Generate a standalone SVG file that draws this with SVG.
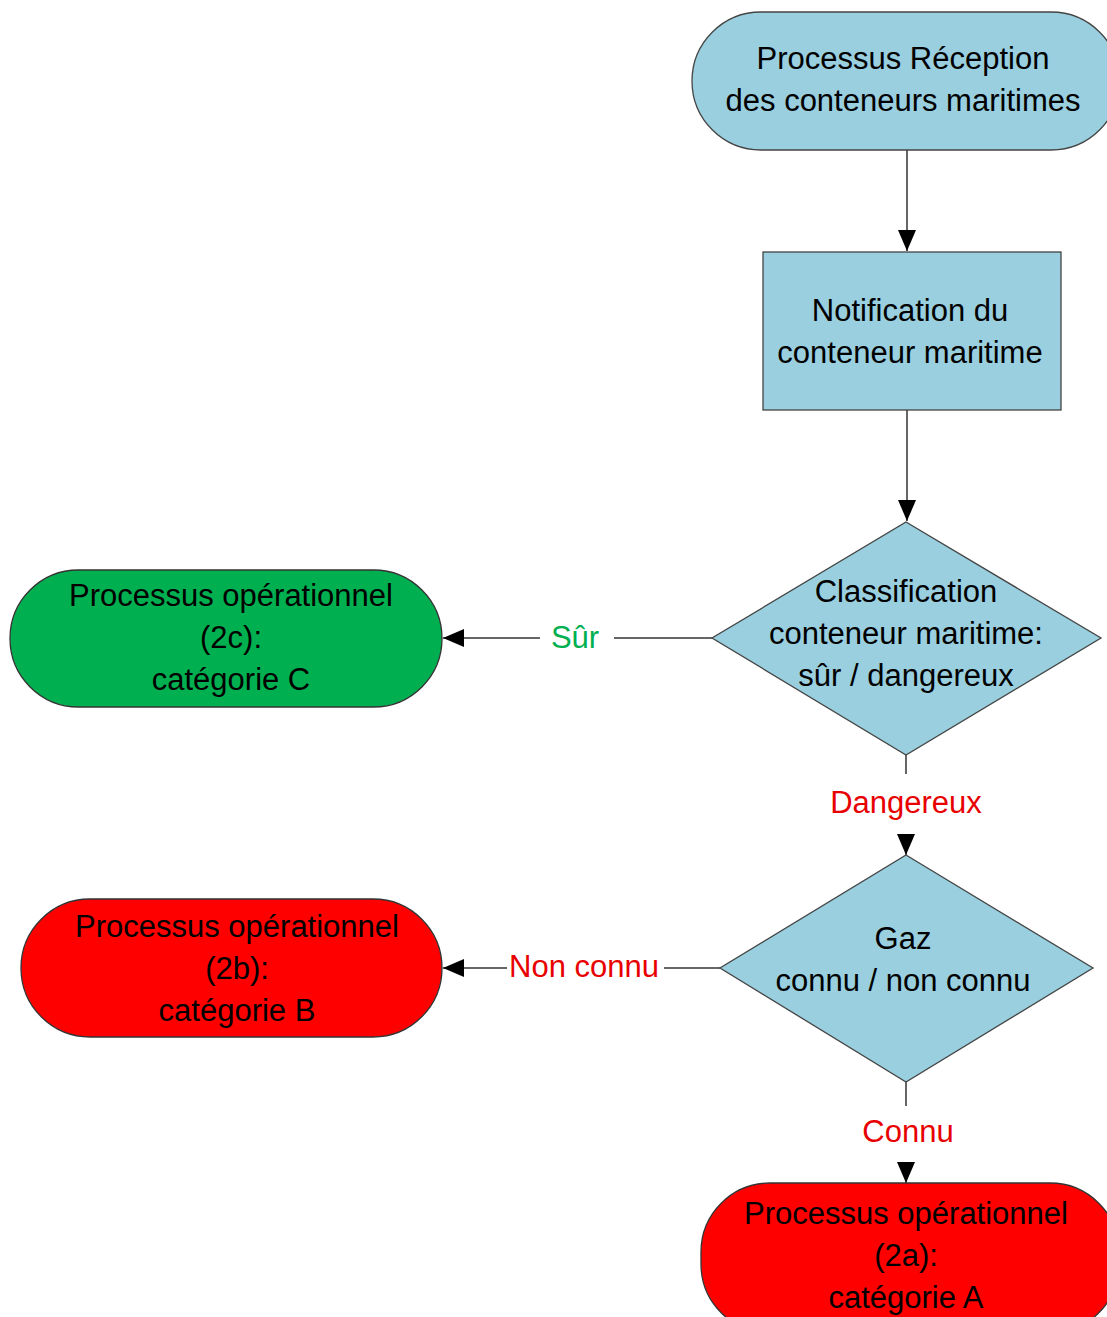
<svg xmlns="http://www.w3.org/2000/svg" width="1107" height="1317" viewBox="0 0 1107 1317">
<defs>
<marker id="ah" viewBox="0 0 21 18" refX="21" refY="9" markerWidth="21" markerHeight="18" markerUnits="userSpaceOnUse" orient="auto">
<path d="M0,0 L21,9 L0,18 Z" fill="#000"/>
</marker>
<style>
.t{font-family:"Liberation Sans",Arial,sans-serif;font-size:31px;fill:#000;text-anchor:middle}
.l{font-family:"Liberation Sans",Arial,sans-serif;font-size:31px;text-anchor:middle}
.blue{fill:#99CFDF;stroke:#444;stroke-width:1.3}
.green{fill:#00B050;stroke:#333;stroke-width:1.3}
.red{fill:#FF0000;stroke:#333;stroke-width:1.3}
.c{stroke:#333;stroke-width:1.5;fill:none}
</style>
</defs>
<rect width="1107" height="1317" fill="#fff"/>
<g id="connectors">
<path class="c" d="M907,150 V251" marker-end="url(#ah)"/>
<path class="c" d="M907,410 V521" marker-end="url(#ah)"/>
<path class="c" d="M712,638 H614"/>
<path class="c" d="M540,638 H443" marker-end="url(#ah)"/>
<path class="c" d="M906,755 V774"/>
<path class="c" d="M906,834 V855" marker-end="url(#ah)"/>
<path class="c" d="M720,968 H664"/>
<path class="c" d="M507,968 H443" marker-end="url(#ah)"/>
<path class="c" d="M906,1082 V1106"/>
<path class="c" d="M906,1162 V1183" marker-end="url(#ah)"/>
<text class="l" x="575" y="648" fill="#00B050">Sûr</text>
<text class="l" x="906" y="813" fill="#E80000">Dangereux</text>
<text class="l" x="584" y="977" fill="#E80000">Non connu</text>
<text class="l" x="908" y="1142" fill="#E80000">Connu</text>
</g>
<g id="n_start">
<rect class="blue" x="692" y="12" width="428" height="138" rx="69" ry="69"/>
<text class="t" x="903" y="69">Processus Réception</text>
<text class="t" x="903" y="111">des conteneurs maritimes</text>
</g>
<g id="n_notif">
<rect class="blue" x="763" y="252" width="298" height="158"/>
<text class="t" x="910" y="321">Notification du</text>
<text class="t" x="910" y="363">conteneur maritime</text>
</g>
<g id="n_classif">
<polygon class="blue" points="906,522 1101,638 906,755 712,638"/>
<text class="t" x="906" y="602">Classification</text>
<text class="t" x="906" y="644">conteneur maritime:</text>
<text class="t" x="906" y="686">sûr / dangereux</text>
</g>
<g id="n_2c">
<rect class="green" x="10" y="570" width="432" height="137" rx="68.5" ry="68.5"/>
<text class="t" x="231" y="606">Processus opérationnel</text>
<text class="t" x="231" y="648">(2c):</text>
<text class="t" x="231" y="690">catégorie C</text>
</g>
<g id="n_gaz">
<polygon class="blue" points="906,855 1093,968 906,1082 720,968"/>
<text class="t" x="903" y="949">Gaz</text>
<text class="t" x="903" y="991">connu / non connu</text>
</g>
<g id="n_2b">
<rect class="red" x="21" y="899" width="421" height="138" rx="69" ry="69"/>
<text class="t" x="237" y="937">Processus opérationnel</text>
<text class="t" x="237" y="979">(2b):</text>
<text class="t" x="237" y="1021">catégorie B</text>
</g>
<g id="n_2a">
<rect class="red" x="701" y="1183" width="418" height="150" rx="69" ry="69"/>
<text class="t" x="906" y="1224">Processus opérationnel</text>
<text class="t" x="906" y="1266">(2a):</text>
<text class="t" x="906" y="1308">catégorie A</text>
</g>
</svg>
